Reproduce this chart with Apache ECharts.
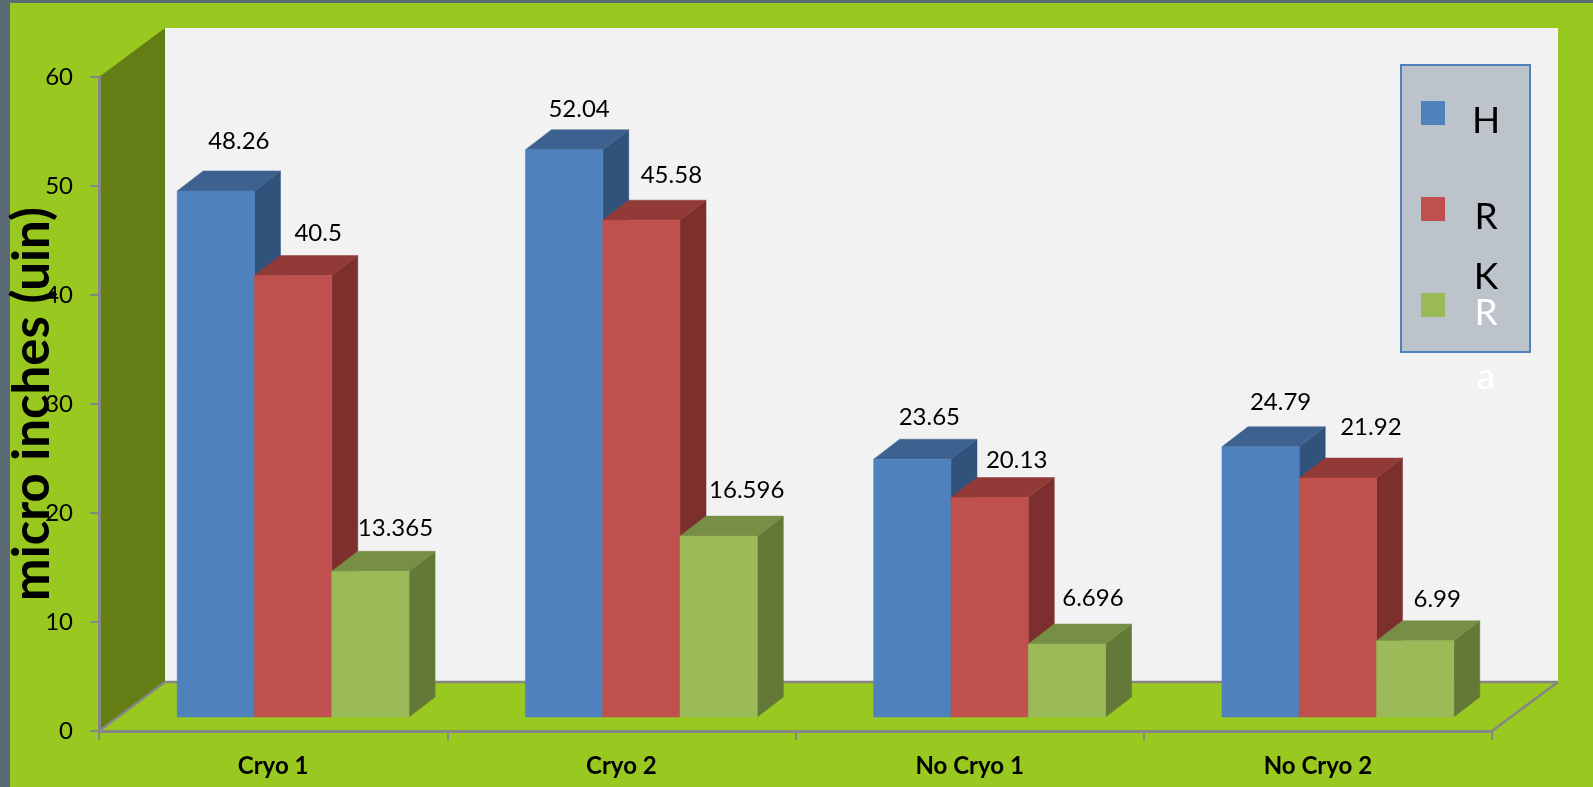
<!DOCTYPE html>
<html>
<head>
<meta charset="utf-8">
<title>micro inches</title>
<script src="https://cdn.jsdelivr.net/npm/echarts@6/dist/echarts.min.js"></script>
<style>
  html, body { margin: 0; padding: 0; }
  #main { width: 1593px; height: 787px; }
</style>
</head>
<body>
<div id="main"></div>
<script>
// data
const categories = ['Cryo 1', 'Cryo 2', 'No Cryo 1', 'No Cryo 2']
const seriesNames = ['H', 'RK', 'Ra']
const valuesH = [48.26, 52.04, 23.65, 24.79]
const valuesRK = [40.5, 45.58, 20.13, 21.92]
const valuesRa = [13.365, 16.596, 6.696, 6.99]
const yTicks = { min: 0, max: 60, interval: 10 }

// label placement, px from the middle of the bar front / its top edge
const labelDx = [[23, 15, 17, 20], [25, 30, 27, 33], [25, 28, 26, 22]]
const labelDy = [[50, 40, 42, 45], [42, 45, 37, 51], [43, 46, 46, 42]]

const FONT = 'Lato, "Open Sans", sans-serif'
const faces = [
  { front: '#4f81bd', top: '#3d628f', side: '#31527a' },
  { front: '#c0504d', top: '#913a38', side: '#7c2f2d' },
  { front: '#9bbb59', top: '#768f44', side: '#647937' }
]

// plot box of the front plane
const plot = { left: 99, right: 1492, top: 77, bottom: 731 }
const wallDx = 66, wallDy = 49    // depth of the walls
const barW = 77.3
const barDx = 26, barDy = 20      // depth of a bar
const shiftX = 20, shiftY = 14    // bars stand a bit behind the front edge

const poly = (points, color) => ({
  type: 'polygon',
  shape: { points },
  style: { fill: color, stroke: color, lineWidth: 0.5 }
})

const renderBar = (params, api) => {
  const s = params.seriesIndex
  const cat = api.value(0)
  const val = api.value(1)
  const p = api.coord([cat, val])
  const base = api.coord([cat, 0])
  const x0 = p[0] + (s - 1.5) * barW + shiftX
  const x1 = x0 + barW
  const yTop = p[1] - shiftY
  const yBot = base[1] - shiftY
  const c = faces[s]
  return {
    type: 'group',
    children: [
      poly([[x1, yTop], [x1 + barDx, yTop - barDy], [x1 + barDx, yBot - barDy], [x1, yBot]], c.side),
      poly([[x0, yTop], [x0 + barDx, yTop - barDy], [x1 + barDx, yTop - barDy], [x1, yTop]], c.top),
      poly([[x0, yTop], [x1, yTop], [x1, yBot], [x0, yBot]], c.front),
      {
        type: 'text',
        z2: 10,
        style: {
          x: x0 + barW / 2 + labelDx[s][cat],
          y: yTop - labelDy[s][cat],
          text: String(val),
          fill: '#000',
          font: '24px ' + FONT,
          textAlign: 'center',
          textVerticalAlign: 'middle'
        }
      }
    ]
  }
}

const gray = { stroke: '#868686', lineWidth: 2.5 }
const edge = (x1, y1, x2, y2) => ({ type: 'line', z: -1, shape: { x1, y1, x2, y2 }, style: gray })

// walls, floor edges
const wallGraphics = [
  { type: 'rect', z: -5, shape: { x: 10, y: 3, width: 1583, height: 784 }, style: { fill: '#99c920' } },
  {
    type: 'rect', z: -4,
    shape: { x: plot.left + wallDx, y: plot.top - wallDy, width: plot.right - plot.left, height: plot.bottom - plot.top },
    style: { fill: '#f2f2f2' }
  },
  {
    type: 'polygon', z: -3,
    shape: {
      points: [
        [plot.left, plot.top], [plot.left + wallDx, plot.top - wallDy],
        [plot.left + wallDx, plot.bottom - wallDy], [plot.left, plot.bottom]
      ]
    },
    style: { fill: '#647d14' }
  },
  {
    type: 'polygon', z: -3,
    shape: {
      points: [
        [plot.left, plot.bottom], [plot.left + wallDx, plot.bottom - wallDy],
        [plot.right + wallDx, plot.bottom - wallDy], [plot.right, plot.bottom]
      ]
    },
    style: { fill: '#99c920' }
  },
  edge(plot.left, plot.bottom, plot.left + wallDx, plot.bottom - wallDy),
  edge(plot.left + wallDx, plot.bottom - wallDy, plot.right + wallDx, plot.bottom - wallDy),
  edge(plot.right, plot.bottom, plot.right + wallDx, plot.bottom - wallDy)
]

// legend box, the names wrap one letter per line in the original
const legendBox = { x: 1401, y: 65, width: 129, height: 287 }
const swatchY = [101, 197, 293]
const letterY = [[121], [217, 277], [313, 377]]
const letterColor = ['#000', '#000', '#fff']

const legendGraphics = [{
  type: 'rect', z: 20,
  shape: legendBox,
  style: { fill: '#bcc3ca', stroke: '#4f81bd', lineWidth: 2 }
}]
seriesNames.forEach((name, i) => {
  legendGraphics.push({
    type: 'rect', z: 21,
    shape: { x: 1421, y: swatchY[i], width: 24, height: 24 },
    style: { fill: faces[i].front }
  })
  name.split('').forEach((ch, k) => {
    legendGraphics.push({
      type: 'text', z: 21,
      style: {
        x: 1486, y: letterY[i][k], text: ch, fill: letterColor[i],
        font: '37px ' + FONT, textAlign: 'center', textVerticalAlign: 'middle'
      }
    })
  })
})

const allValues = [valuesH, valuesRK, valuesRa]

let chartOptions = {
  animation: false,
  backgroundColor: '#5b6b75',
  graphic: { elements: wallGraphics.concat(legendGraphics) },
  grid: {
    left: plot.left,
    right: 1593 - plot.right,
    top: plot.top,
    bottom: 787 - plot.bottom,
    outerBoundsMode: 'none' // the big axis name must not push the plot to the right
  },
  xAxis: {
    type: 'category',
    data: categories,
    axisLine: { lineStyle: { color: '#868686', width: 3 } },
    axisTick: { show: true, length: 9, alignWithLabel: false, lineStyle: { color: '#868686', width: 2 } },
    axisLabel: { color: '#000', fontFamily: FONT, fontWeight: 'bold', fontSize: 24, margin: 23, interval: 0 }
  },
  yAxis: {
    type: 'value',
    min: yTicks.min,
    max: yTicks.max,
    interval: yTicks.interval,
    name: 'micro inches (uin)',
    nameLocation: 'middle',
    nameRotate: 90,
    nameGap: 41,
    nameMoveOverlap: false, // the name sits on top of the tick labels in the original
    nameTextStyle: { color: '#000', fontFamily: FONT, fontWeight: 'bold', fontSize: 51 },
    splitLine: { show: false },
    axisLine: { show: true, lineStyle: { color: '#868686', width: 3 } },
    axisTick: { show: true, length: 9, lineStyle: { color: '#868686', width: 2 } },
    axisLabel: { color: '#000', fontFamily: FONT, fontSize: 24, margin: 26 }
  },
  series: allValues.map((vals, i) => ({
    name: seriesNames[i],
    type: 'custom',
    clip: false,
    renderItem: renderBar,
    encode: { x: 0, y: 1 },
    data: vals.map((v, k) => [k, v])
  }))
}

let myChart = echarts.init(document.getElementById('main'))
myChart.setOption(chartOptions)
</script>
</body>
</html>
